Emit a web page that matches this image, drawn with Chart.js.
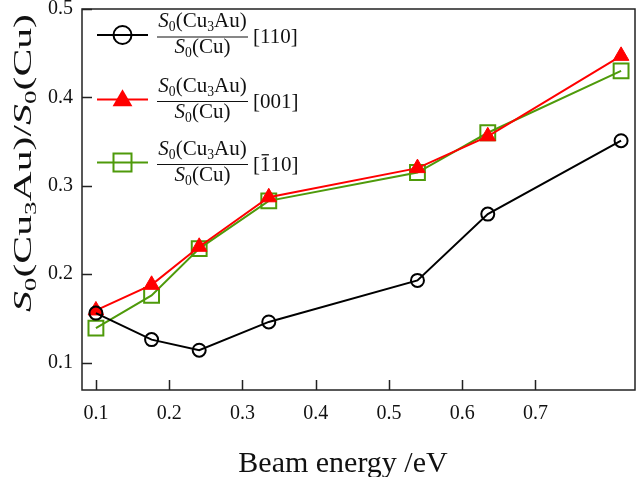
<!DOCTYPE html>
<html>
<head>
<meta charset="utf-8">
<script src="https://cdn.jsdelivr.net/npm/chart.js@4.4.0/dist/chart.umd.min.js"></script>
<style>
  html, body { margin: 0; background: #fff; }
</style>
</head>
<body>
<canvas id="chart" width="638" height="477"></canvas>
<script>
// values
const energy = [0.1, 0.176, 0.241, 0.336, 0.539, 0.635, 0.817];
const ratio110 = [0.156, 0.126, 0.114, 0.146, 0.193, 0.268, 0.351];
const ratio001 = [0.159, 0.188, 0.231, 0.287, 0.320, 0.356, 0.447];
const ratioBar110 = [0.139, 0.176, 0.229, 0.283, 0.315, 0.360, 0.430];

const xTicks = [0.1, 0.2, 0.3, 0.4, 0.5, 0.6, 0.7];
const yTicks = [0.1, 0.2, 0.3, 0.4, 0.5];
// direction labels; "bar" marks a digit written with an overbar
const directions = [
  [{ t: "[110]" }],
  [{ t: "[001]" }],
  [{ t: "[" }, { t: "1", bar: true }, { t: "10]" }]
];

const FONT = "'Liberation Serif', 'Times New Roman', serif";
const green = "#4e9a0a";

function pts(ys) {
  return energy.map((x, i) => ({ x: x, y: ys[i] }));
}

// rich text: list of parts {t, it, sub, bar}
function setFont(ctx, p, size) {
  ctx.font = (p.it ? "italic " : "") + (p.sub ? size * 0.65 : size) + "px " + FONT;
}
function richWidth(ctx, parts, size) {
  let w = 0;
  parts.forEach(p => {
    setFont(ctx, p, size);
    w += ctx.measureText(p.t).width;
  });
  return w;
}
function drawRich(ctx, parts, x, y, size) {
  parts.forEach(p => {
    setFont(ctx, p, size);
    const w = ctx.measureText(p.t).width;
    ctx.fillText(p.t, x, p.sub ? y + size * 0.2 : y);
    if (p.bar) {
      ctx.fillRect(x + w * 0.15, y - size * 0.78, w * 0.7, 1.3);
    }
    x += w;
  });
}

const numParts = [{ t: "S", it: true }, { t: "0", sub: true }, { t: "(Cu" }, { t: "3", sub: true }, { t: "Au)" }];
const denParts = [{ t: "S", it: true }, { t: "0", sub: true }, { t: "(Cu)" }];
const yTitleParts = [{ t: "S", it: true }, { t: "0", sub: true }, { t: "(Cu" }, { t: "3", sub: true }, { t: "Au)/" },
  { t: "S", it: true }, { t: "0", sub: true }, { t: "(Cu)" }];

function drawMarker(ctx, style, x, y, s, color) {
  ctx.save();
  ctx.strokeStyle = color;
  ctx.fillStyle = color;
  ctx.lineWidth = 2;
  ctx.beginPath();
  if (style === "circle") {
    ctx.arc(x, y, s, 0, Math.PI * 2);
    ctx.stroke();
  } else if (style === "rect") {
    ctx.rect(x - s, y - s, 2 * s, 2 * s);
    ctx.stroke();
  } else {
    ctx.moveTo(x, y - s * 1.15);
    ctx.lineTo(x + s * 1.1, y + s * 0.75);
    ctx.lineTo(x - s * 1.1, y + s * 0.75);
    ctx.closePath();
    ctx.fill();
  }
  ctx.restore();
}

const decor = {
  id: "decor",
  afterDraw(chart) {
    const ctx = chart.ctx;
    const a = chart.chartArea;
    const xs = chart.scales.x, ys = chart.scales.y;
    ctx.save();
    // frame
    ctx.strokeStyle = "#222";
    ctx.lineWidth = 1.5;
    ctx.strokeRect(a.left, a.top, a.right - a.left, a.bottom - a.top);
    // inward ticks
    ctx.beginPath();
    xTicks.forEach(v => {
      const px = Math.round(xs.getPixelForValue(v)) + 0.5;
      ctx.moveTo(px, a.bottom);
      ctx.lineTo(px, a.bottom - 10);
    });
    yTicks.forEach(v => {
      const py = Math.round(ys.getPixelForValue(v)) + 0.5;
      ctx.moveTo(a.left, py);
      ctx.lineTo(a.left + 10, py);
    });
    ctx.stroke();

    ctx.fillStyle = "#111";
    ctx.textBaseline = "alphabetic";
    // x title
    ctx.font = "30px " + FONT;
    ctx.textAlign = "center";
    ctx.fillText("Beam energy /eV", 343, 472);
    ctx.textAlign = "left";

    // y title (stretched along its length like the original)
    ctx.save();
    ctx.translate(31, 163);
    ctx.rotate(-Math.PI / 2);
    const ySize = 26;
    const yw = richWidth(ctx, yTitleParts, ySize);
    ctx.scale(298 / yw, 1);
    drawRich(ctx, yTitleParts, -yw / 2, 0, ySize);
    ctx.restore();

    // legend
    const rows = [
      { c: 35, color: "#000", style: "circle", s: 9 },
      { c: 99.5, color: "#ff0000", style: "triangle", s: 9 },
      { c: 162.5, color: green, style: "rect", s: 9 }
    ];
    const fs = 21;
    rows.forEach((r, i) => {
      ctx.strokeStyle = r.color;
      ctx.lineWidth = 2;
      ctx.beginPath();
      ctx.moveTo(97, r.c);
      ctx.lineTo(148, r.c);
      ctx.stroke();
      drawMarker(ctx, r.style, 122.5, r.c, r.s, r.color);

      ctx.fillStyle = "#111";
      const nw = richWidth(ctx, numParts, fs);
      const dw = richWidth(ctx, denParts, fs);
      const mid = 202.5;
      drawRich(ctx, numParts, mid - nw / 2, r.c - 8, fs);
      drawRich(ctx, denParts, mid - dw / 2, r.c + 18, fs);
      ctx.strokeStyle = "#111";
      ctx.lineWidth = 1.2;
      ctx.beginPath();
      ctx.moveTo(157, r.c + 2);
      ctx.lineTo(248, r.c + 2);
      ctx.stroke();
      drawRich(ctx, directions[i], 253, r.c + 8, fs);
    });
    ctx.restore();
  }
};

new Chart(document.getElementById("chart"), {
  type: "line",
  data: {
    datasets: [
      {
        label: "[110]",
        data: pts(ratio110),
        borderColor: "#000",
        borderWidth: 2,
        pointStyle: "circle",
        pointRadius: 6.5,
        pointBorderWidth: 2,
        pointBorderColor: "#000",
        pointBackgroundColor: "rgba(0,0,0,0)"
      },
      {
        label: "[001]",
        data: pts(ratio001),
        borderColor: "#ff0000",
        borderWidth: 2,
        pointStyle: "triangle",
        pointRadius: 9,
        pointBorderWidth: 1,
        pointBorderColor: "#ff0000",
        pointBackgroundColor: "#ff0000"
      },
      {
        label: "[-110]",
        data: pts(ratioBar110),
        borderColor: green,
        borderWidth: 2,
        pointStyle: "rect",
        pointRadius: 10.5,
        pointBorderWidth: 2,
        pointBorderColor: green,
        pointBackgroundColor: "rgba(0,0,0,0)"
      }
    ]
  },
  options: {
    responsive: false,
    animation: false,
    devicePixelRatio: 1,
    layout: { autoPadding: false, padding: { top: 9, right: 3, left: 0, bottom: 0 } },
    plugins: { legend: { display: false }, tooltip: { enabled: false } },
    scales: {
      x: {
        type: "linear",
        min: 0.081,
        max: 0.836,
        grid: { display: false, drawTicks: false },
        border: { display: false },
        afterBuildTicks: s => { s.ticks = xTicks.map(v => ({ value: v })); },
        afterFit: s => { s.height = 87; s.paddingLeft = 0; s.paddingRight = 0; },
        ticks: {
          padding: 12,
          color: "#111",
          font: { family: FONT, size: 20 },
          callback: v => v.toFixed(1)
        }
      },
      y: {
        min: 0.069,
        max: 0.5,
        grid: { display: false, drawTicks: false },
        border: { display: false },
        afterBuildTicks: s => { s.ticks = yTicks.map(v => ({ value: v })); },
        afterFit: s => { s.width = 82; s.paddingTop = 0; s.paddingBottom = 0; },
        ticks: {
          padding: 9,
          color: "#111",
          font: { family: FONT, size: 20 },
          callback: v => v.toFixed(1)
        }
      }
    }
  },
  plugins: [decor]
});
</script>
</body>
</html>
